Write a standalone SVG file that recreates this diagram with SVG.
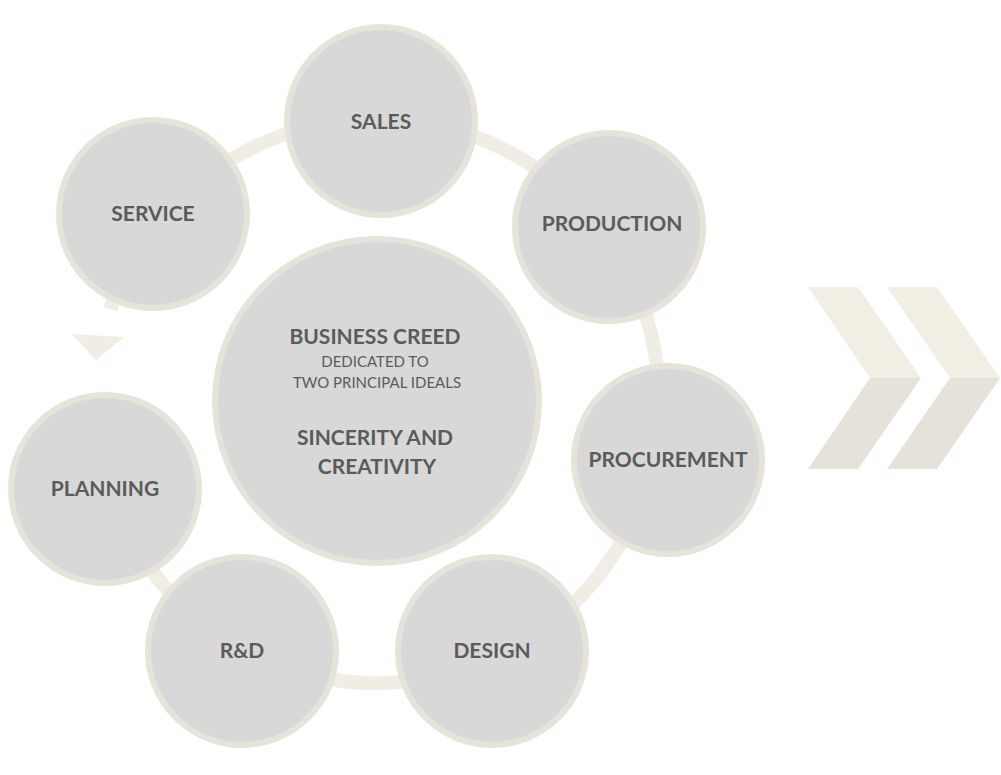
<svg xmlns="http://www.w3.org/2000/svg" width="1001" height="775" viewBox="0 0 1001 775">
<style>
.n{fill:#d8d8d8;stroke:#e6e3da;stroke-width:6}
.t{font-family:Lato,"Liberation Sans",sans-serif;font-weight:700;font-size:21px;fill:#5b5b5b;text-anchor:middle}
.s{font-family:Lato,"Liberation Sans",sans-serif;font-size:15px;fill:#5b5b5b;text-anchor:middle}
</style>
<rect width="1001" height="775" fill="#fff"/>
<g id="connectors">
<path d="M110.4,309.2 A282,282 0 1 1 104.6,474" fill="none" stroke="#f0eee4" stroke-width="14"/>
<polygon points="72,334 124,337 96,360" fill="#f0eee4"/>
</g>
<g id="chevrons">
<polygon points="808,287 858,287 921,378 870,378" fill="#f1efe4"/>
<polygon points="870,378 921,378 858,469 808,469" fill="#e5e2da"/>
<polygon points="887,287 937,287 1000,378 950,378" fill="#f1efe4"/>
<polygon points="950,378 1000,378 937,469 887,469" fill="#e5e2da"/>
</g>
<g id="center"><circle class="n" cx="377" cy="401" r="162" stroke-width="8"/>
<text class="t" x="375" y="344">BUSINESS CREED</text>
<text class="s" x="375" y="367">DEDICATED TO</text>
<text class="s" x="377" y="388">TWO PRINCIPAL IDEALS</text>
<text class="t" x="375" y="445">SINCERITY AND</text>
<text class="t" x="377" y="474">CREATIVITY</text></g>
<g id="sales"><circle class="n" cx="381" cy="121" r="94"/><text class="t" x="381" y="129">SALES</text></g>
<g id="production"><circle class="n" cx="609" cy="227" r="94"/><text class="t" x="612" y="231">PRODUCTION</text></g>
<g id="procurement"><circle class="n" cx="668" cy="460" r="94"/><text class="t" x="668" y="467">PROCUREMENT</text></g>
<g id="design"><circle class="n" cx="492" cy="651" r="94"/><text class="t" x="492" y="658">DESIGN</text></g>
<g id="rd"><circle class="n" cx="242" cy="651" r="94"/><text class="t" x="242" y="658">R&amp;D</text></g>
<g id="planning"><circle class="n" cx="105" cy="489" r="94"/><text class="t" x="105" y="496">PLANNING</text></g>
<g id="service"><circle class="n" cx="153" cy="214" r="94"/><text class="t" x="153" y="221">SERVICE</text></g>
</svg>
